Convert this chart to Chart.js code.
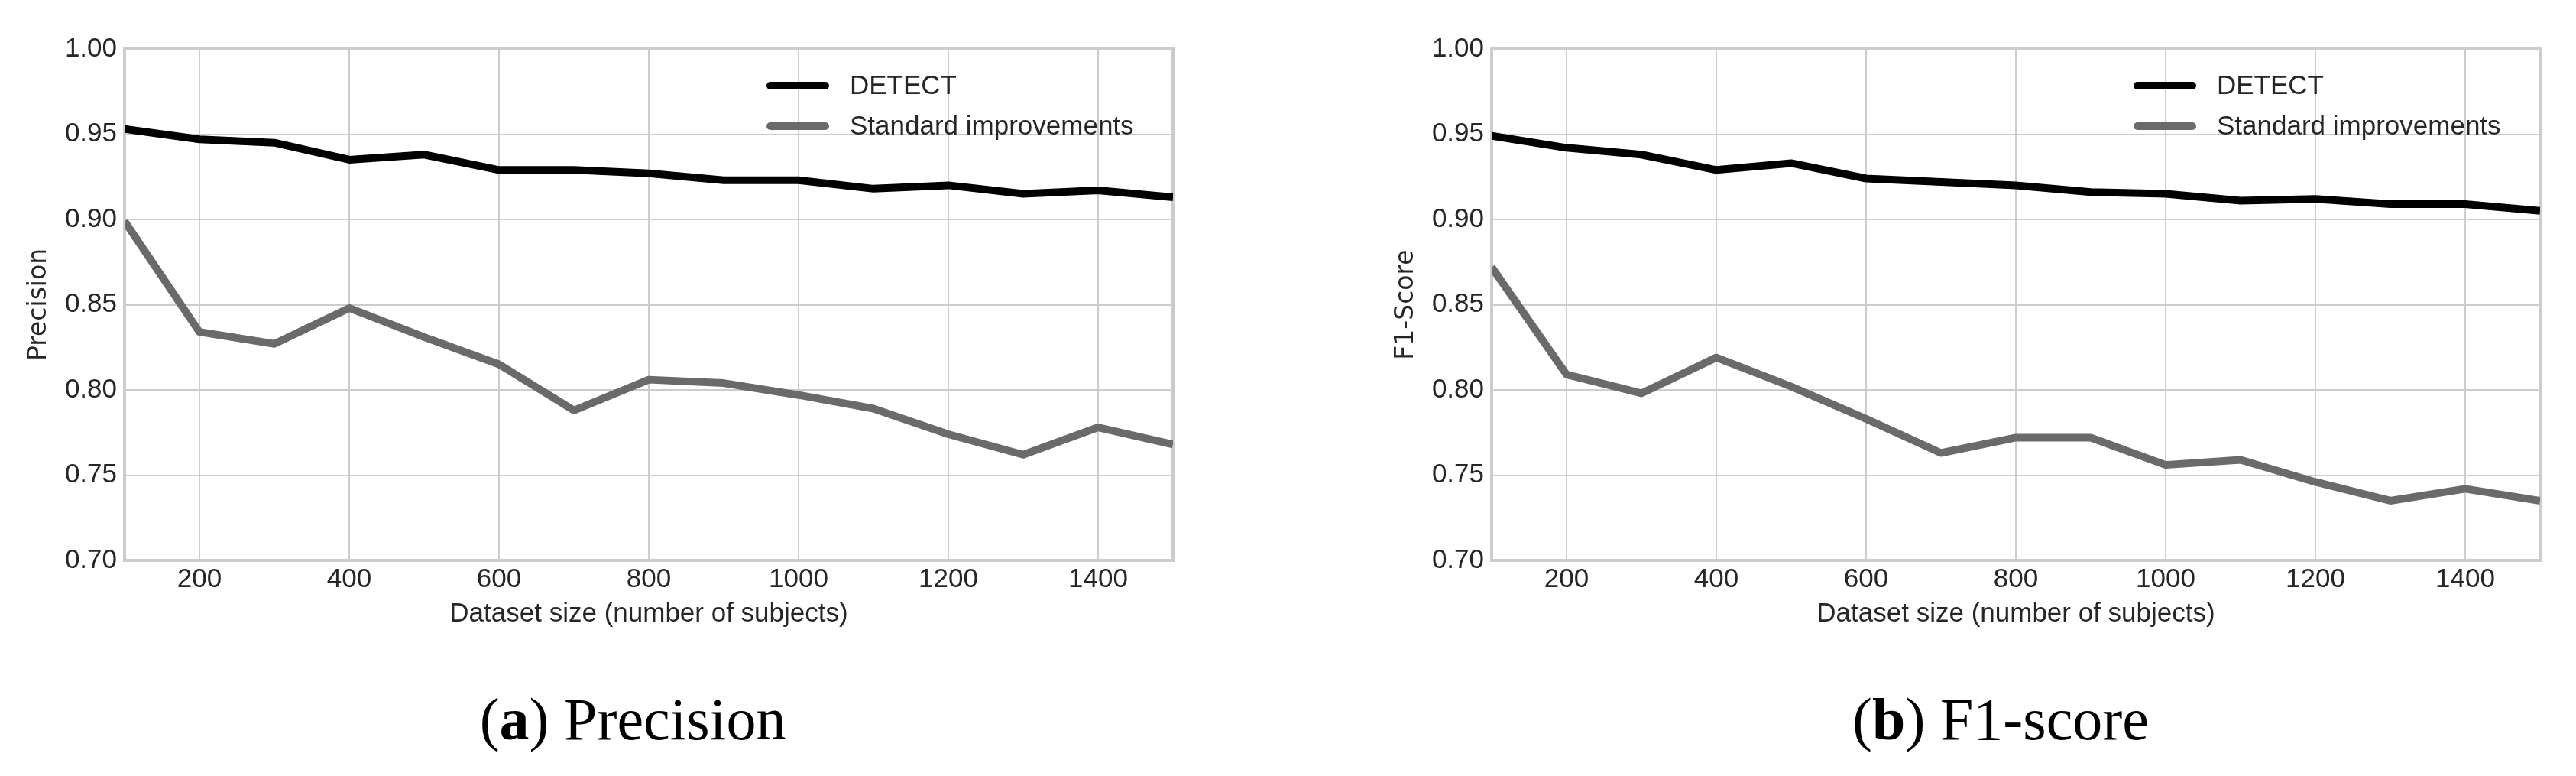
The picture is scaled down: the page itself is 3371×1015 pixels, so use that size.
<!DOCTYPE html>
<html>
<head>
<meta charset="utf-8">
<title>DETECT vs standard improvements</title>
<script src="https://cdn.jsdelivr.net/npm/chart.js@4.4.1/dist/chart.umd.min.js"></script>
<style>
  html, body { margin: 0; padding: 0; background: #fff; }
  body { width: 3371px; height: 1015px; position: relative; overflow: hidden; }
  .panel { position: absolute; top: 0; height: 860px; }
  .caption {
    position: absolute; top: 902px;
    font-family: "Liberation Serif", "Times New Roman", serif;
    font-size: 78px; line-height: 78px; color: #000;
    white-space: nowrap; transform: translateX(-50%);
  }
</style>
</head>
<body>
<div class="panel" style="left:0;width:1690px"><canvas id="precisionChart"></canvas></div>
<div class="panel" style="left:1789px;width:1582px"><canvas id="f1Chart"></canvas></div>
<div class="caption" style="left:828px">(<b>a</b>) Precision</div>
<div class="caption" style="left:2618px">(<b>b</b>) F1-score</div>

<script>
/* dataset size (number of subjects) */
const datasetSizes = [100, 200, 300, 400, 500, 600, 700, 800, 900, 1000, 1100, 1200, 1300, 1400, 1500];
const xTicks = [200, 400, 600, 800, 1000, 1200, 1400];
const yTicks = [0.70, 0.75, 0.80, 0.85, 0.90, 0.95, 1.00];
const seriesNames = ["DETECT", "Standard improvements"];

// (a) precision
const precisionDetect   = [0.953, 0.947, 0.945, 0.935, 0.938, 0.929, 0.929, 0.927, 0.923, 0.923, 0.918, 0.920, 0.915, 0.917, 0.913];
const precisionStandard = [0.899, 0.834, 0.827, 0.848, 0.831, 0.815, 0.788, 0.806, 0.804, 0.797, 0.789, 0.774, 0.762, 0.778, 0.768];

// (b) F1-score
const f1Detect   = [0.949, 0.942, 0.938, 0.929, 0.933, 0.924, 0.922, 0.920, 0.916, 0.915, 0.911, 0.912, 0.909, 0.909, 0.905];
const f1Standard = [0.872, 0.809, 0.798, 0.819, 0.802, 0.783, 0.763, 0.772, 0.772, 0.756, 0.759, 0.746, 0.735, 0.742, 0.735];

const colors = { detect: "#000000", standard: "#6a6a6a", grid: "#cccccc", text: "#262626" };
const sansFont = "'Liberation Sans', Arial, sans-serif";

// grey frame round the plot area (top/right edges too)
const framePlugin = {
  id: "frame",
  beforeDatasetsDraw(chart) {
    const a = chart.chartArea, ctx = chart.ctx;
    ctx.save();
    ctx.strokeStyle = colors.grid;
    ctx.lineWidth = 4;
    ctx.strokeRect(a.left, a.top, a.right - a.left, a.bottom - a.top);
    ctx.restore();
  },
};

// legend drawn inside the plot, upper right
const insideLegend = {
  id: "insideLegend",
  afterDatasetsDraw(chart) {
    const a = chart.chartArea, ctx = chart.ctx;
    const x0 = a.right - 532;
    ctx.save();
    chart.data.datasets.forEach((ds, i) => {
      const y = a.top + 48 + i * 53;
      ctx.strokeStyle = ds.borderColor;
      ctx.lineWidth = 10;
      ctx.lineCap = "round";
      ctx.beginPath();
      ctx.moveTo(x0 + 5, y);
      ctx.lineTo(x0 + 77, y);
      ctx.stroke();
      ctx.fillStyle = colors.text;
      ctx.font = "35px " + sansFont;
      ctx.textBaseline = "middle";
      ctx.fillText(ds.label, x0 + 109, y + 1);
    });
    ctx.restore();
  },
};

function toPoints(values) {
  return datasetSizes.map((x, i) => ({ x, y: values[i] }));
}

function makeChart(canvasId, yTitle, detect, standard, padRight) {
  const line = (label, values, color) => ({
    label,
    data: toPoints(values),
    borderColor: color,
    backgroundColor: color,
    borderWidth: 10,
    borderJoinStyle: "round",
    pointRadius: 0,
    tension: 0,
    clip: 0,
  });
  return new Chart(document.getElementById(canvasId), {
    type: "line",
    data: {
      datasets: [
        line(seriesNames[0], detect, colors.detect),
        line(seriesNames[1], standard, colors.standard),
      ],
    },
    options: {
      responsive: true,
      maintainAspectRatio: false,
      animation: false,
      layout: { padding: { left: 0, top: 64, right: padRight, bottom: 17 } },
      plugins: { legend: { display: false }, tooltip: { enabled: false } },
      scales: {
        x: {
          type: "linear",
          min: 100,
          max: 1500,
          afterBuildTicks: (s) => { s.ticks = xTicks.map((v) => ({ value: v })); },
          afterFit: (s) => { s.height = 110; },
          grid: { color: colors.grid, lineWidth: 2, drawTicks: false },
          border: { color: colors.grid, width: 4 },
          ticks: {
            color: colors.text,
            padding: 4,
            maxRotation: 0,
            font: { family: sansFont, size: 35 },
            callback: (v) => String(v),
          },
          title: {
            display: true,
            text: "Dataset size (number of subjects)",
            color: colors.text,
            padding: { top: 0, bottom: 19 },
            font: { family: sansFont, size: 35 },
          },
        },
        y: {
          min: 0.70,
          max: 1.00,
          afterBuildTicks: (s) => { s.ticks = yTicks.map((v) => ({ value: v })); },
          afterFit: (s) => { s.width = 163; },
          grid: { color: colors.grid, lineWidth: 2, drawTicks: false },
          border: { color: colors.grid, width: 4 },
          ticks: {
            color: colors.text,
            padding: 10,
            font: { family: sansFont, size: 35 },
            callback: (v) => Number(v).toFixed(2),
          },
          title: {
            display: true,
            text: yTitle,
            color: colors.text,
            padding: { top: 32, bottom: 0 },
            font: { family: "'DejaVu Sans', sans-serif", size: 33 },
          },
        },
      },
    },
    plugins: [framePlugin, insideLegend],
  });
}

makeChart("precisionChart", "Precision", precisionDetect, precisionStandard, 155);
makeChart("f1Chart", "F1-Score", f1Detect, f1Standard, 47);
</script>
</body>
</html>
